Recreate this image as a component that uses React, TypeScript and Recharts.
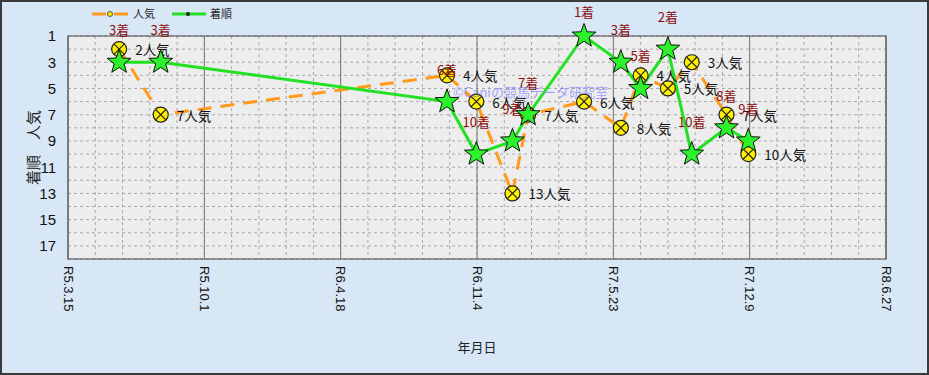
import React from "react";
import {
  LineChart,
  Line,
  XAxis,
  YAxis,
  CartesianGrid,
  ReferenceLine,
  ReferenceArea,
  Label,
} from "recharts";

// race dates, popularity (人気) and finishing position (着順)
const raceDates = [
  "2023-05-29", "2023-07-29", "2024-09-21", "2024-11-03", "2024-12-26",
  "2025-01-18", "2025-04-10", "2025-06-03", "2025-07-02", "2025-08-11",
  "2025-09-15", "2025-11-05", "2025-12-07",
];
const popularity = [2, 7, 4, 6, 13, 7, 6, 8, 4, 5, 3, 7, 10];
const finish = [3, 3, 6, 10, 9, 7, 1, 3, 5, 2, 10, 8, 9];

const axisDates = ["2023-03-15", "2023-10-01", "2024-04-18", "2024-11-04", "2025-05-23", "2025-12-09", "2026-06-27"];
const axisLabels = ["R5.3.15", "R5.10.1", "R6.4.18", "R6.11.4", "R7.5.23", "R7.12.9", "R8.6.27"];
const yTicks = [1, 2, 3, 4, 5, 6, 7, 8, 9, 10, 11, 12, 13, 14, 15, 16, 17, 18];

const toDay = (s: string) => Date.parse(s) / 86400000;

const majorTicks = axisDates.map(toDay);
const minorTicks: number[] = [];
majorTicks.forEach((t, i) => {
  if (i < majorTicks.length - 1) {
    const step = (majorTicks[i + 1] - t) / 5;
    for (let k = 0; k < 5; k++) minorTicks.push(t + k * step);
  } else minorTicks.push(t);
});

const data = raceDates.map((d, i) => ({ t: toDay(d), pop: popularity[i], fin: finish[i] }));

const JP = "'Noto Sans CJK JP', 'Noto Sans', sans-serif";
const ORANGE = "#ff9a1a";
const GREEN = "#22e022";

const DateTick = (props: any) => {
  const { x, y, payload } = props;
  const i = majorTicks.findIndex((t) => Math.abs(t - payload.value) < 0.5);
  if (i < 0) return <g />;
  return (
    <text
      x={x}
      y={y}
      transform={`rotate(90, ${x}, ${y})`}
      textAnchor="start"
      dominantBaseline="central"
      fontFamily="'Liberation Sans', Arial, sans-serif"
      fontSize={13}
      fill="#111"
    >
      {axisLabels[i]}
    </text>
  );
};

const PopDot = (p: any) => {
  const { cx, cy, index, value } = p;
  const r = 7.5;
  const d = 5.2;
  return (
    <g key={`pop-${index}`}>
      <circle cx={cx} cy={cy} r={r} fill="#fff000" stroke="#222" strokeWidth={1.2} />
      <line x1={cx - d} y1={cy - d} x2={cx + d} y2={cy + d} stroke="#222" strokeWidth={1.2} />
      <line x1={cx - d} y1={cy + d} x2={cx + d} y2={cy - d} stroke="#222" strokeWidth={1.2} />
      <text x={cx + 16} y={cy + 6} fontFamily={JP} fontSize={13.5} fill="#111">
        {value}人気
      </text>
    </g>
  );
};

const starPath = (cx: number, cy: number, R: number, r: number) => {
  const pts: string[] = [];
  for (let k = 0; k < 10; k++) {
    const rad = k % 2 === 0 ? R : r;
    const a = -Math.PI / 2 + (k * Math.PI) / 5;
    pts.push(`${cx + rad * Math.cos(a)},${cy + rad * Math.sin(a)}`);
  }
  return `M${pts.join("L")}Z`;
};

const FinDot = (p: any) => {
  const { cx, cy, index, value } = p;
  const ly = Math.max(cy - 27, 17);
  return (
    <g key={`fin-${index}`}>
      <path d={starPath(cx, cy, 12.5, 5.2)} fill="#2cf22c" stroke="#111" strokeWidth={1} />
      <text x={cx} y={ly} textAnchor="middle" fontFamily={JP} fontSize={13} fill="#8b1010">
        {value}着
      </text>
    </g>
  );
};

export default function App() {
  return (
    <div
      style={{
        position: "absolute",
        left: 0,
        top: 0,
        width: 929,
        height: 375,
        background: "#d8e7f6",
        overflow: "hidden",
      }}
    >
      <LineChart width={929} height={375} data={data} margin={{ top: 36, right: 43, bottom: 56, left: 22 }}>
        <CartesianGrid fill="#ededed" stroke="#a8a8a8" strokeDasharray="3 3" />
        {majorTicks.map((t) => (
          <ReferenceLine key={t} x={t} stroke="#777" strokeWidth={1} />
        ))}
        <ReferenceArea
          x1={majorTicks[0]}
          x2={majorTicks[majorTicks.length - 1]}
          y1={1}
          y2={18}
          fill="none"
          stroke="#444"
          strokeWidth={1.2}
        />
        <XAxis
          type="number"
          dataKey="t"
          domain={[majorTicks[0], majorTicks[majorTicks.length - 1]]}
          ticks={minorTicks}
          interval={0}
          tick={<DateTick />}
          tickLine={false}
          tickSize={0}
          tickMargin={7}
          axisLine={false}
          height={60}
        >
          <Label
            content={({ viewBox }: any) => (
              <text
                x={viewBox.x + viewBox.width / 2}
                y={352}
                textAnchor="middle"
                fontFamily={JP}
                fontSize={13}
                fill="#222"
              >
                年月日
              </text>
            )}
          />
        </XAxis>
        <YAxis
          type="number"
          domain={[1, 18]}
          reversed
          ticks={yTicks}
          interval={0}
          tickFormatter={(v: number) => (v % 2 === 1 ? String(v) : "")}
          tick={{ fontFamily: "'Liberation Sans', Arial, sans-serif", fontSize: 15, fill: "#111" }}
          tickLine={false}
          tickSize={0}
          tickMargin={12}
          axisLine={false}
          width={46}
        >
          <Label
            content={({ viewBox }: any) => {
              const cy = viewBox.y + viewBox.height / 2;
              return (
                <text
                  x={32}
                  y={cy}
                  transform={`rotate(-90, 32, ${cy})`}
                  textAnchor="middle"
                  dominantBaseline="central"
                  fontFamily={JP}
                  fontSize={15}
                  fill="#222"
                >
                  着順　人気
                </text>
              );
            }}
          />
        </YAxis>
        <Line
          type="linear"
          dataKey="pop"
          stroke={ORANGE}
          strokeWidth={3}
          strokeDasharray="14 9"
          dot={PopDot}
          activeDot={false}
          isAnimationActive={false}
        />
        <Line
          type="linear"
          dataKey="fin"
          stroke={GREEN}
          strokeWidth={3}
          dot={FinDot}
          activeDot={false}
          isAnimationActive={false}
        />
      </LineChart>
      {/* legend */}
      <svg style={{ position: "absolute", left: 88, top: 5 }} width={170} height={18}>
        <line x1={4} y1={9} x2={42} y2={9} stroke={ORANGE} strokeWidth={3} strokeDasharray="14 8" />
        <circle cx={22} cy={9} r={2.5} fill="#fff000" stroke="#333" strokeWidth={0.8} />
        <text x={45} y={13} fontFamily={JP} fontSize={11} fill="#222">人気</text>
        <line x1={84} y1={9} x2={118} y2={9} stroke={GREEN} strokeWidth={3} />
        <circle cx={100} cy={9} r={2} fill="#222" />
        <text x={122} y={13} fontFamily={JP} fontSize={11} fill="#222">着順</text>
      </svg>
      <div
        style={{
          position: "absolute",
          left: 453,
          top: 82,
          fontFamily: JP,
          fontSize: 13,
          color: "rgba(110,110,255,0.6)",
          whiteSpace: "nowrap",
          pointerEvents: "none",
        }}
      >
        ©Caniの競馬データ研究室
      </div>
      <div
        style={{
          position: "absolute",
          inset: 0,
          border: "2px solid #3a3a3a",
          boxSizing: "border-box",
          pointerEvents: "none",
        }}
      />
    </div>
  );
}
